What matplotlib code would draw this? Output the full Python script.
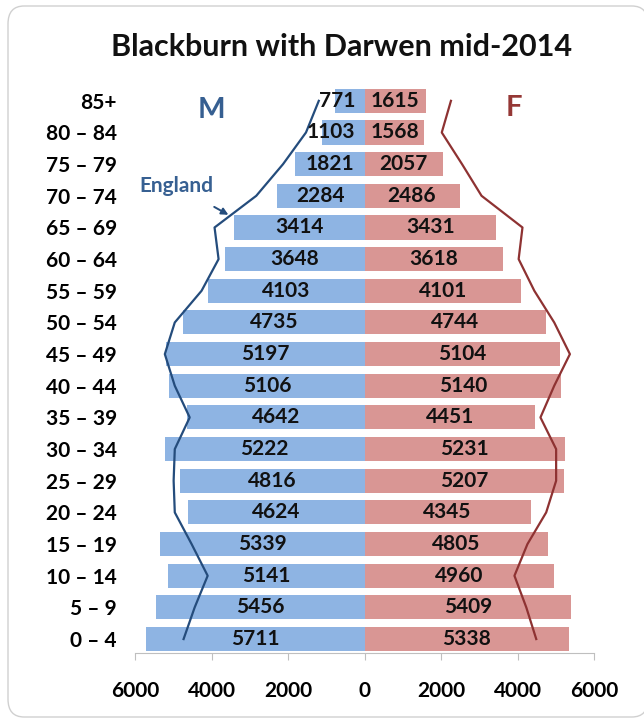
import numpy as np
import matplotlib
matplotlib.use("Agg")
import matplotlib.pyplot as plt
from matplotlib.patches import FancyBboxPatch
from matplotlib.ticker import FuncFormatter

plt.rcParams['font.family'] = ['Lato', 'DejaVu Sans']

# data (bottom to top)
ages = ["0 \u2013 4", "5 \u2013 9", "10 \u2013 14", "15 \u2013 19", "20 \u2013 24",
        "25 \u2013 29", "30 \u2013 34", "35 \u2013 39", "40 \u2013 44", "45 \u2013 49",
        "50 \u2013 54", "55 \u2013 59", "60 \u2013 64", "65 \u2013 69", "70 \u2013 74",
        "75 \u2013 79", "80 \u2013 84", "85+"]
male = [5711, 5456, 5141, 5339, 4624, 4816, 5222, 4642, 5106, 5197,
        4735, 4103, 3648, 3414, 2284, 1821, 1103, 771]
female = [5338, 5409, 4960, 4805, 4345, 5207, 5231, 4451, 5140, 5104,
          4744, 4101, 3618, 3431, 2486, 2057, 1568, 1615]
# England profile scaled to local population
eng_male = [4730, 4440, 4100, 4520, 4960, 4990, 4960, 4570, 4960, 5220,
            4960, 4260, 3815, 3920, 2830, 2130, 1530, 1195]
eng_female = [4490, 4230, 3920, 4260, 4750, 5010, 5010, 4600, 4960, 5370,
              4960, 4440, 4030, 4130, 3060, 2550, 2020, 2260]

male_col = "#8EB4E3"
female_col = "#D99694"
male_line = "#244C7C"
female_line = "#8E3232"

fig = plt.figure(figsize=(6.44, 7.19), dpi=100)

# card frame
card = FancyBboxPatch((8 / 644, 2 / 719), 640 / 644, 711 / 719,
                      boxstyle="round,pad=0,rounding_size=0.025",
                      transform=fig.transFigure, facecolor="white",
                      edgecolor="#D0D0D0", linewidth=1.0, zorder=-5)
fig.patches.append(card)

ax = fig.add_axes([135 / 644, 66 / 719, 459 / 644, 568 / 719], zorder=2)
ax.set_facecolor("none")

y = np.arange(len(ages))
m = -np.array(male)
f = np.array(female)

ax.barh(y, m, height=0.76, color=male_col, zorder=2)
ax.barh(y, f, height=0.76, color=female_col, zorder=2)

ax.plot(-np.array(eng_male), y, color=male_line, lw=1.6, zorder=4)
ax.plot(eng_female, y, color=female_line, lw=1.6, zorder=4)

fs = 15
for i in range(len(ages)):
    if male[i] < 1500:
        ax.text(-250, y[i], str(male[i]), ha="right", va="center",
                fontsize=fs, fontweight="bold", color="#111111", zorder=5)
    else:
        ax.text(-male[i] / 2, y[i], str(male[i]), ha="center", va="center",
                fontsize=fs, fontweight="bold", color="#111111", zorder=5)
    ax.text(female[i] / 2, y[i], str(female[i]), ha="center", va="center",
            fontsize=fs, fontweight="bold", color="#111111", zorder=5)

ax.set_xlim(-6000, 6000)
ax.set_ylim(-0.44, 17.5)
ax.set_yticks(y)
ax.set_yticklabels(ages, fontsize=fs, fontweight="bold")
ax.tick_params(axis="y", length=0, pad=13)
ax.set_xticks([-6000, -4000, -2000, 0, 2000, 4000, 6000])
ax.xaxis.set_major_formatter(FuncFormatter(lambda v, p: "%d" % abs(v)))
for lab in ax.get_xticklabels():
    lab.set_fontweight("bold")
    lab.set_fontsize(fs)
ax.tick_params(axis="x", length=5, color="#BFBFBF", pad=15)

for s in ["top", "right", "left"]:
    ax.spines[s].set_visible(False)
ax.spines["bottom"].set_color("#BFBFBF")

ax.text(-4000, 16.71, "M", ha="center", va="center", fontsize=21,
        fontweight="bold", color="#365F91")
ax.text(3896, 16.78, "F", ha="center", va="center", fontsize=21,
        fontweight="bold", color="#953735")
ax.annotate("England", xy=(-3558, 13.40), xytext=(-4909, 14.31),
            ha="center", va="center", fontsize=15, fontweight="bold",
            color="#376092",
            arrowprops=dict(arrowstyle="-|>", color="#244C7C", lw=1.4,
                            shrinkA=12, shrinkB=0, mutation_scale=10))

fig.text(342 / 644, 1 - 47 / 719, "Blackburn with Darwen mid-2014",
         ha="center", va="center", fontsize=22, fontweight="bold",
         color="#111111")

fig.savefig("out.png", dpi=100)
